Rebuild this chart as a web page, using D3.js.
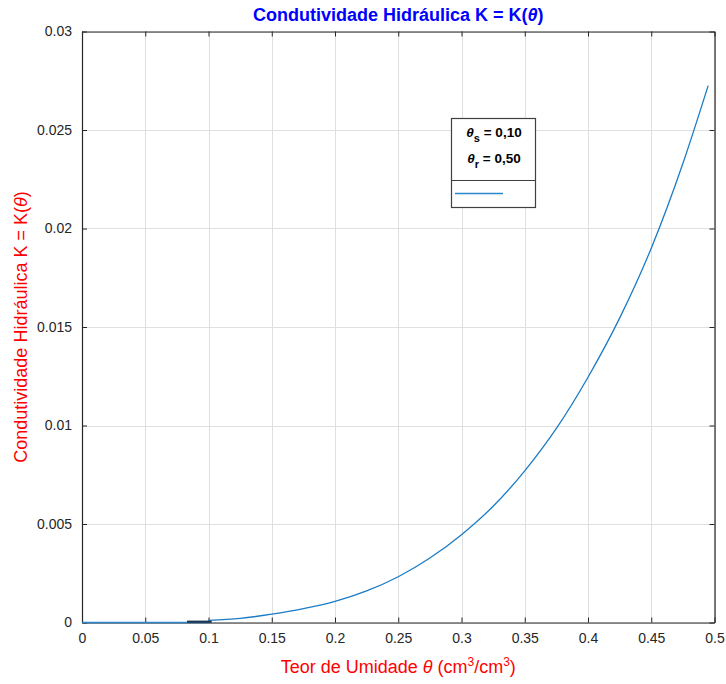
<!DOCTYPE html>
<html>
<head>
<meta charset="utf-8">
<script src="https://cdn.jsdelivr.net/npm/d3@7"></script>
<style>
  html, body { margin: 0; padding: 0; background: #fff; }
  svg { display: block; font-family: "Liberation Sans", Arial, Helvetica, sans-serif; }
</style>
</head>
<body>
<svg id="chart" width="726" height="684"></svg>
<script>
// ---- data ----
const thetaCurve = [0.1, 0.125, 0.15, 0.175, 0.2, 0.225, 0.25, 0.275, 0.3, 0.325, 0.35, 0.375, 0.4, 0.425, 0.45, 0.475, 0.495];
const kCurve     = [0.00011, 0.00021, 0.00042, 0.00070, 0.00107, 0.00160, 0.00232, 0.00327, 0.00446, 0.00590, 0.00770, 0.00985, 0.01245, 0.01545, 0.01900, 0.02330, 0.02725];
const thetaZero  = [0, 0.05, 0.1];
const kZero      = [0, 0, 0];
const thetaDark  = [0.083, 0.1025];
const kDark      = [0, 0];
const xTicks = [0, 0.05, 0.1, 0.15, 0.2, 0.25, 0.3, 0.35, 0.4, 0.45, 0.5];
const xTickLabels = ["0", "0.05", "0.1", "0.15", "0.2", "0.25", "0.3", "0.35", "0.4", "0.45", "0.5"];
const yTicks = [0, 0.005, 0.01, 0.015, 0.02, 0.025, 0.03];
const yTickLabels = ["0", "0.005", "0.01", "0.015", "0.02", "0.025", "0.03"];
const legendLines = [["s", "0,10"], ["r", "0,50"]];

// ---- layout ----
const svg = d3.select("#chart");
const L = 82, R = 714.5, T = 31.5, B = 622.5;
const x = d3.scaleLinear().domain([0, 0.5]).range([L, R]);
const y = d3.scaleLinear().domain([0, 0.03]).range([B, T]);
const axisColor = "#262626";

svg.append("rect").attr("width", 726).attr("height", 684).attr("fill", "#fff");

// grid
const grid = svg.append("g");
grid.selectAll("line.gx").data(xTicks).join("line")
  .attr("x1", d => Math.round(x(d)) + 0.5).attr("x2", d => Math.round(x(d)) + 0.5)
  .attr("y1", T).attr("y2", B).attr("stroke", "#dfdfdf").attr("stroke-width", 1);
grid.selectAll("line.gy").data(yTicks).join("line")
  .attr("y1", d => Math.round(y(d)) + 0.5).attr("y2", d => Math.round(y(d)) + 0.5)
  .attr("x1", L).attr("x2", R).attr("stroke", "#dfdfdf").attr("stroke-width", 1);

// axes (MATLAB style: inward ticks on all sides)
const fmtX = d => xTickLabels[xTicks.indexOf(d)];
const fmtY = d => yTickLabels[yTicks.indexOf(d)];
const gx = svg.append("g").attr("transform", `translate(0,${B})`)
  .call(d3.axisBottom(x).tickValues(xTicks).tickFormat(fmtX).tickSizeInner(-5).tickSizeOuter(0).tickPadding(11));
const gy = svg.append("g").attr("transform", `translate(${L},0)`)
  .call(d3.axisLeft(y).tickValues(yTicks).tickFormat(fmtY).tickSizeInner(-5).tickSizeOuter(0).tickPadding(10));
const gxt = svg.append("g").attr("transform", `translate(0,${T})`)
  .call(d3.axisTop(x).tickValues(xTicks).tickFormat("").tickSizeInner(-5).tickSizeOuter(0));
const gyr = svg.append("g").attr("transform", `translate(${R},0)`)
  .call(d3.axisRight(y).tickValues(yTicks).tickFormat("").tickSizeInner(-5).tickSizeOuter(0));
[gx, gy, gxt, gyr].forEach(g => {
  g.select(".domain").attr("stroke", axisColor).attr("stroke-width", 1.2);
  g.selectAll(".tick line").attr("stroke", axisColor);
  g.selectAll(".tick text").attr("fill", axisColor).style("font-size", "14px")
    .style("font-family", "'Liberation Sans', Arial, sans-serif");
});

// data lines
const line = d3.line().x(d => x(d[0])).y(d => y(d[1]));
const lineSmooth = d3.line().x(d => x(d[0])).y(d => y(d[1])).curve(d3.curveMonotoneX);
svg.append("path").datum(d3.zip(thetaZero, kZero)).attr("d", line)
  .attr("fill", "none").attr("stroke", "#2a86cc").attr("stroke-width", 1.3);
svg.append("path").datum(d3.zip(thetaCurve, kCurve)).attr("d", lineSmooth)
  .attr("fill", "none").attr("stroke", "#1a7cc6").attr("stroke-width", 1.3);
svg.append("path").datum(d3.zip(thetaDark, kDark)).attr("d", line)
  .attr("fill", "none").attr("stroke", "#1d3550").attr("stroke-width", 2.2)
  .attr("transform", "translate(0,-0.8)");

// title
const title = svg.append("text").attr("x", (L + R) / 2).attr("y", 21)
  .attr("text-anchor", "middle").attr("fill", "#0000ff")
  .style("font-size", "18px").style("font-weight", "bold");
title.append("tspan").text("Condutividade Hidráulica K = K(");
title.append("tspan").attr("font-style", "italic").text("θ");
title.append("tspan").text(")");

// x label
const xl = svg.append("text").attr("x", (L + R) / 2).attr("y", 673)
  .attr("text-anchor", "middle").attr("fill", "#ff0000").style("font-size", "18px");
xl.append("tspan").text("Teor de Umidade ");
xl.append("tspan").attr("font-style", "italic").text("θ");
xl.append("tspan").text(" (cm");
xl.append("tspan").attr("dy", -7).style("font-size", "12px").text("3");
xl.append("tspan").attr("dy", 7).text("/cm");
xl.append("tspan").attr("dy", -7).style("font-size", "12px").text("3");
xl.append("tspan").attr("dy", 7).text(")");

// y label
const yl = svg.append("text").attr("transform", `translate(27,${(T + B) / 2}) rotate(-90)`)
  .attr("text-anchor", "middle").attr("fill", "#ff0000").style("font-size", "18px");
yl.append("tspan").text("Condutividade Hidráulica K = K(");
yl.append("tspan").attr("font-style", "italic").text("θ");
yl.append("tspan").text(")");

// legend
const lg = svg.append("g");
const lx0 = 451, lx1 = 535, ly0 = 118, ly1 = 207, ldiv = 180.5;
lg.append("rect").attr("x", lx0 + 0.5).attr("y", ly0 + 0.5).attr("width", lx1 - lx0).attr("height", ly1 - ly0)
  .attr("fill", "#fff").attr("stroke", "#404040").attr("stroke-width", 1.2);
lg.append("line").attr("x1", lx0).attr("x2", lx1 + 1).attr("y1", ldiv).attr("y2", ldiv)
  .attr("stroke", "#404040").attr("stroke-width", 1.2);
legendLines.forEach((d, i) => {
  const t = lg.append("text").attr("x", (lx0 + lx1) / 2 + 1).attr("y", 137 + i * 26)
    .attr("text-anchor", "middle").attr("fill", "#000")
    .style("font-size", "13.5px").style("font-weight", "bold");
  t.append("tspan").attr("font-style", "italic").text("θ");
  t.append("tspan").attr("dy", 5).style("font-size", "11px").text(d[0]);
  t.append("tspan").attr("dy", -5).text(" = " + d[1]);
});
lg.append("line").attr("x1", 455).attr("x2", 503).attr("y1", 193.5).attr("y2", 193.5)
  .attr("stroke", "#2a86cc").attr("stroke-width", 1.3);
</script>
</body>
</html>
